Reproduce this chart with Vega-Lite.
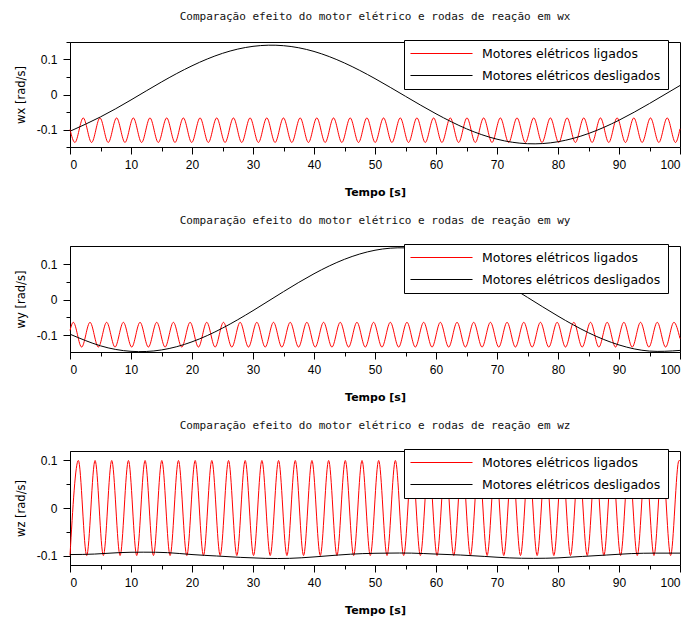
{
"$schema": "https://vega.github.io/schema/vega-lite/v6.json",
"padding": {"left": 14, "top": 10, "right": 0, "bottom": 0},
"spacing": 16,
"datasets": {
"wxL": [{"t":0,"v":-0.1},{"t":0.8,"v":-0.137},{"t":2.17,"v":-0.067},{"t":3.54,"v":-0.137},{"t":4.91,"v":-0.067},{"t":6.27,"v":-0.137},{"t":7.64,"v":-0.067},{"t":9.01,"v":-0.137},{"t":10.38,"v":-0.067},{"t":11.74,"v":-0.137},{"t":13.11,"v":-0.067},{"t":14.48,"v":-0.137},{"t":15.85,"v":-0.067},{"t":17.21,"v":-0.137},{"t":18.58,"v":-0.067},{"t":19.95,"v":-0.137},{"t":21.32,"v":-0.067},{"t":22.68,"v":-0.137},{"t":24.05,"v":-0.067},{"t":25.42,"v":-0.137},{"t":26.79,"v":-0.067},{"t":28.15,"v":-0.137},{"t":29.52,"v":-0.067},{"t":30.89,"v":-0.137},{"t":32.26,"v":-0.067},{"t":33.62,"v":-0.137},{"t":34.99,"v":-0.067},{"t":36.36,"v":-0.137},{"t":37.73,"v":-0.067},{"t":39.09,"v":-0.137},{"t":40.46,"v":-0.067},{"t":41.83,"v":-0.137},{"t":43.2,"v":-0.067},{"t":44.56,"v":-0.137},{"t":45.93,"v":-0.067},{"t":47.3,"v":-0.137},{"t":48.67,"v":-0.067},{"t":50.03,"v":-0.137},{"t":51.4,"v":-0.067},{"t":52.77,"v":-0.137},{"t":54.14,"v":-0.067},{"t":55.5,"v":-0.137},{"t":56.87,"v":-0.067},{"t":58.24,"v":-0.137},{"t":59.61,"v":-0.067},{"t":60.97,"v":-0.137},{"t":62.34,"v":-0.067},{"t":63.71,"v":-0.137},{"t":65.08,"v":-0.067},{"t":66.44,"v":-0.137},{"t":67.81,"v":-0.067},{"t":69.18,"v":-0.137},{"t":70.55,"v":-0.067},{"t":71.91,"v":-0.137},{"t":73.28,"v":-0.067},{"t":74.65,"v":-0.137},{"t":76.02,"v":-0.067},{"t":77.38,"v":-0.137},{"t":78.75,"v":-0.067},{"t":80.12,"v":-0.137},{"t":81.49,"v":-0.067},{"t":82.85,"v":-0.137},{"t":84.22,"v":-0.067},{"t":85.59,"v":-0.137},{"t":86.96,"v":-0.067},{"t":88.32,"v":-0.137},{"t":89.69,"v":-0.067},{"t":91.06,"v":-0.137},{"t":92.43,"v":-0.067},{"t":93.79,"v":-0.137},{"t":95.16,"v":-0.067},{"t":96.53,"v":-0.137},{"t":97.9,"v":-0.067},{"t":99.26,"v":-0.137},{"t":100,"v":-0.098}],
"wxD": [{"t":0,"v":-0.105},{"t":5,"v":-0.064},{"t":10,"v":-0.0155},{"t":15,"v":0.0358},{"t":20,"v":0.082},{"t":25,"v":0.1176},{"t":30,"v":0.1376},{"t":35,"v":0.1395},{"t":40,"v":0.123},{"t":45,"v":0.09},{"t":50,"v":0.0454},{"t":55,"v":-0.0052},{"t":60,"v":-0.0551},{"t":65,"v":-0.098},{"t":70,"v":-0.1277},{"t":75,"v":-0.1406},{"t":80,"v":-0.135},{"t":85,"v":-0.1115},{"t":90,"v":-0.0735},{"t":95,"v":-0.0257},{"t":100,"v":0.0257}],
"wyL": [{"t":0,"v":-0.087},{"t":0.54,"v":-0.064},{"t":1.91,"v":-0.134},{"t":3.28,"v":-0.064},{"t":4.65,"v":-0.134},{"t":6.01,"v":-0.064},{"t":7.38,"v":-0.134},{"t":8.75,"v":-0.064},{"t":10.12,"v":-0.134},{"t":11.48,"v":-0.064},{"t":12.85,"v":-0.134},{"t":14.22,"v":-0.064},{"t":15.59,"v":-0.134},{"t":16.95,"v":-0.064},{"t":18.32,"v":-0.134},{"t":19.69,"v":-0.064},{"t":21.06,"v":-0.134},{"t":22.42,"v":-0.064},{"t":23.79,"v":-0.134},{"t":25.16,"v":-0.064},{"t":26.53,"v":-0.134},{"t":27.89,"v":-0.064},{"t":29.26,"v":-0.134},{"t":30.63,"v":-0.064},{"t":32.0,"v":-0.134},{"t":33.36,"v":-0.064},{"t":34.73,"v":-0.134},{"t":36.1,"v":-0.064},{"t":37.47,"v":-0.134},{"t":38.83,"v":-0.064},{"t":40.2,"v":-0.134},{"t":41.57,"v":-0.064},{"t":42.94,"v":-0.134},{"t":44.3,"v":-0.064},{"t":45.67,"v":-0.134},{"t":47.04,"v":-0.064},{"t":48.41,"v":-0.134},{"t":49.77,"v":-0.064},{"t":51.14,"v":-0.134},{"t":52.51,"v":-0.064},{"t":53.88,"v":-0.134},{"t":55.24,"v":-0.064},{"t":56.61,"v":-0.134},{"t":57.98,"v":-0.064},{"t":59.35,"v":-0.134},{"t":60.71,"v":-0.064},{"t":62.08,"v":-0.134},{"t":63.45,"v":-0.064},{"t":64.82,"v":-0.134},{"t":66.18,"v":-0.064},{"t":67.55,"v":-0.134},{"t":68.92,"v":-0.064},{"t":70.29,"v":-0.134},{"t":71.65,"v":-0.064},{"t":73.02,"v":-0.134},{"t":74.39,"v":-0.064},{"t":75.76,"v":-0.134},{"t":77.12,"v":-0.064},{"t":78.49,"v":-0.134},{"t":79.86,"v":-0.064},{"t":81.23,"v":-0.134},{"t":82.59,"v":-0.064},{"t":83.96,"v":-0.134},{"t":85.33,"v":-0.064},{"t":86.7,"v":-0.134},{"t":88.06,"v":-0.064},{"t":89.43,"v":-0.134},{"t":90.8,"v":-0.064},{"t":92.17,"v":-0.134},{"t":93.53,"v":-0.064},{"t":94.9,"v":-0.134},{"t":96.27,"v":-0.064},{"t":97.64,"v":-0.134},{"t":99.0,"v":-0.064},{"t":100,"v":-0.11}],
"wyD": [{"t":0,"v":-0.0976},{"t":5,"v":-0.1305},{"t":10,"v":-0.1461},{"t":15,"v":-0.1422},{"t":20,"v":-0.1192},{"t":25,"v":-0.0804},{"t":30,"v":-0.0309},{"t":35,"v":0.0228},{"t":40,"v":0.0735},{"t":45,"v":0.1144},{"t":50,"v":0.14},{"t":55,"v":0.1467},{"t":60,"v":0.134},{"t":65,"v":0.1035},{"t":70,"v":0.0591},{"t":75,"v":0.0066},{"t":80,"v":-0.0464},{"t":85,"v":-0.0935},{"t":90,"v":-0.128},{"t":95,"v":-0.1454},{"t":100,"v":-0.1435}],
"wzL": [{"t":0,"v":-0.1},{"t":1.37,"v":0.1},{"t":2.74,"v":-0.1},{"t":4.11,"v":0.1},{"t":5.47,"v":-0.1},{"t":6.84,"v":0.1},{"t":8.21,"v":-0.1},{"t":9.58,"v":0.1},{"t":10.94,"v":-0.1},{"t":12.31,"v":0.1},{"t":13.68,"v":-0.1},{"t":15.05,"v":0.1},{"t":16.41,"v":-0.1},{"t":17.78,"v":0.1},{"t":19.15,"v":-0.1},{"t":20.52,"v":0.1},{"t":21.88,"v":-0.1},{"t":23.25,"v":0.1},{"t":24.62,"v":-0.1},{"t":25.99,"v":0.1},{"t":27.35,"v":-0.1},{"t":28.72,"v":0.1},{"t":30.09,"v":-0.1},{"t":31.46,"v":0.1},{"t":32.82,"v":-0.1},{"t":34.19,"v":0.1},{"t":35.56,"v":-0.1},{"t":36.93,"v":0.1},{"t":38.29,"v":-0.1},{"t":39.66,"v":0.1},{"t":41.03,"v":-0.1},{"t":42.4,"v":0.1},{"t":43.76,"v":-0.1},{"t":45.13,"v":0.1},{"t":46.5,"v":-0.1},{"t":47.87,"v":0.1},{"t":49.23,"v":-0.1},{"t":50.6,"v":0.1},{"t":51.97,"v":-0.1},{"t":53.34,"v":0.1},{"t":54.7,"v":-0.1},{"t":56.07,"v":0.1},{"t":57.44,"v":-0.1},{"t":58.81,"v":0.1},{"t":60.17,"v":-0.1},{"t":61.54,"v":0.1},{"t":62.91,"v":-0.1},{"t":64.28,"v":0.1},{"t":65.64,"v":-0.1},{"t":67.01,"v":0.1},{"t":68.38,"v":-0.1},{"t":69.75,"v":0.1},{"t":71.11,"v":-0.1},{"t":72.48,"v":0.1},{"t":73.85,"v":-0.1},{"t":75.22,"v":0.1},{"t":76.58,"v":-0.1},{"t":77.95,"v":0.1},{"t":79.32,"v":-0.1},{"t":80.69,"v":0.1},{"t":82.05,"v":-0.1},{"t":83.42,"v":0.1},{"t":84.79,"v":-0.1},{"t":86.16,"v":0.1},{"t":87.52,"v":-0.1},{"t":88.89,"v":0.1},{"t":90.26,"v":-0.1},{"t":91.63,"v":0.1},{"t":92.99,"v":-0.1},{"t":94.36,"v":0.1},{"t":95.73,"v":-0.1},{"t":97.1,"v":0.1},{"t":98.46,"v":-0.1},{"t":99.83,"v":0.1},{"t":100,"v":0.099}],
"wzD": [{"t":0,"v":-0.098},{"t":4,"v":-0.097},{"t":8,"v":-0.094},{"t":12,"v":-0.093},{"t":16,"v":-0.094},{"t":20,"v":-0.098},{"t":24,"v":-0.101},{"t":28,"v":-0.104},{"t":32,"v":-0.106},{"t":36,"v":-0.106},{"t":40,"v":-0.103},{"t":44,"v":-0.099},{"t":48,"v":-0.096},{"t":52,"v":-0.095},{"t":56,"v":-0.095},{"t":60,"v":-0.097},{"t":64,"v":-0.099},{"t":68,"v":-0.102},{"t":72,"v":-0.105},{"t":76,"v":-0.106},{"t":80,"v":-0.105},{"t":84,"v":-0.102},{"t":88,"v":-0.099},{"t":92,"v":-0.096},{"t":96,"v":-0.095},{"t":100,"v":-0.095}]
},
"config": {
"view": {"stroke": "black", "strokeWidth": 1},
"axis": {"grid": false, "domainColor": "black", "tickColor": "black", "labelColor": "black", "titleColor": "black", "labelFont": "Liberation Sans", "labelFontSize": 12, "tickSize": 7},
"title": {"font": "DejaVu Sans Mono", "fontSize": 11, "fontWeight": "normal", "color": "#111111", "offset": 18, "anchor": "middle"},
"line": {"strokeWidth": 1}
},
"resolve": {"scale": {"color": "independent"}, "legend": {"color": "independent"}},
"vconcat": [
{
"width": 610, "height": 105,
"title": "Comparação efeito do motor elétrico e rodas de reação em wx",
"layer": [
{"data": {"name": "wxL"}, "mark": {"type": "line", "interpolate": "monotone"},
"encoding": {
"x": {"field": "t", "type": "quantitative", "scale": {"domain": [0, 100], "nice": false}, "axis": {"values": [0,10,20,30,40,50,60,70,80,90,100], "title": "Tempo [s]", "titleFont": "DejaVu Sans", "titleFontSize": 11, "titleFontWeight": "bold", "labelPadding": 5, "titlePadding": 16}},
"y": {"field": "v", "type": "quantitative", "scale": {"domain": [-0.15, 0.15], "nice": false, "zero": false}, "axis": {"values": [-0.1, 0, 0.1], "labelExpr": "datum.value > 0 ? '0.1' : datum.value < 0 ? '-0.1' : '0'", "title": "wx [rad/s]", "titleFont": "DejaVu Sans", "titleFontSize": 11.5, "titleFontWeight": "normal", "labelPadding": 6, "titlePadding": 10}},
"color": {"datum": "Motores elétricos ligados", "type": "nominal", "scale": {"domain": ["Motores elétricos ligados", "Motores elétricos desligados"], "range": ["#ff0000", "#000000"]},
"legend": {"title": null, "orient": "none", "legendX": 334, "legendY": -2, "fillColor": "white", "strokeColor": "black", "padding": 7, "symbolType": "M-5.17,0H5.17", "symbolSize": 144, "symbolStrokeWidth": 1, "symbolOffset": 24, "labelOffset": 34, "labelFont": "DejaVu Sans", "labelFontSize": 12.5, "labelColor": "black", "rowPadding": 9, "labelLimit": 0}}
}},
{"data": {"name": "wxD"}, "mark": {"type": "line", "interpolate": "natural"},
"encoding": {
"x": {"field": "t", "type": "quantitative", "axis": null},
"y": {"field": "v", "type": "quantitative", "axis": null},
"color": {"datum": "Motores elétricos desligados", "type": "nominal"}
}},
{"data": {"name": "wxD"}, "mark": {"type": "point", "opacity": 0},
"encoding": {
"x": {"field": "t", "type": "quantitative", "axis": {"orient": "bottom", "values": [5,15,25,35,45,55,65,75,85,95], "labels": false, "domain": false, "tickSize": 4, "title": null}},
"y": {"field": "v", "type": "quantitative", "axis": {"orient": "left", "values": [-0.15,-0.05,0.05,0.15], "labels": false, "domain": false, "tickSize": 4, "title": null}}
}}
],
"resolve": {"axis": {"x": "independent", "y": "independent"}}
},
{
"width": 610, "height": 106,
"title": "Comparação efeito do motor elétrico e rodas de reação em wy",
"layer": [
{"data": {"name": "wyL"}, "mark": {"type": "line", "interpolate": "monotone"},
"encoding": {
"x": {"field": "t", "type": "quantitative", "scale": {"domain": [0, 100], "nice": false}, "axis": {"values": [0,10,20,30,40,50,60,70,80,90,100], "title": "Tempo [s]", "titleFont": "DejaVu Sans", "titleFontSize": 11, "titleFontWeight": "bold", "labelPadding": 5, "titlePadding": 16}},
"y": {"field": "v", "type": "quantitative", "scale": {"domain": [-0.148, 0.152], "nice": false, "zero": false}, "axis": {"values": [-0.1, 0, 0.1], "labelExpr": "datum.value > 0 ? '0.1' : datum.value < 0 ? '-0.1' : '0'", "title": "wy [rad/s]", "titleFont": "DejaVu Sans", "titleFontSize": 11.5, "titleFontWeight": "normal", "labelPadding": 6, "titlePadding": 10}},
"color": {"datum": "Motores elétricos ligados", "type": "nominal", "scale": {"domain": ["Motores elétricos ligados", "Motores elétricos desligados"], "range": ["#ff0000", "#000000"]},
"legend": {"title": null, "orient": "none", "legendX": 334, "legendY": -2, "fillColor": "white", "strokeColor": "black", "padding": 7, "symbolType": "M-5.17,0H5.17", "symbolSize": 144, "symbolStrokeWidth": 1, "symbolOffset": 24, "labelOffset": 34, "labelFont": "DejaVu Sans", "labelFontSize": 12.5, "labelColor": "black", "rowPadding": 9, "labelLimit": 0}}
}},
{"data": {"name": "wyD"}, "mark": {"type": "line", "interpolate": "natural"},
"encoding": {
"x": {"field": "t", "type": "quantitative", "axis": null},
"y": {"field": "v", "type": "quantitative", "axis": null},
"color": {"datum": "Motores elétricos desligados", "type": "nominal"}
}},
{"data": {"name": "wyD"}, "mark": {"type": "point", "opacity": 0},
"encoding": {
"x": {"field": "t", "type": "quantitative", "axis": {"orient": "bottom", "values": [5,15,25,35,45,55,65,75,85,95], "labels": false, "domain": false, "tickSize": 4, "title": null}},
"y": {"field": "v", "type": "quantitative", "axis": {"orient": "left", "values": [-0.05,0.05], "labels": false, "domain": false, "tickSize": 4, "title": null}}
}}
],
"resolve": {"axis": {"x": "independent", "y": "independent"}}
},
{
"width": 610, "height": 114,
"title": "Comparação efeito do motor elétrico e rodas de reação em wz",
"layer": [
{"data": {"name": "wzL"}, "mark": {"type": "line", "interpolate": "monotone"},
"encoding": {
"x": {"field": "t", "type": "quantitative", "scale": {"domain": [0, 100], "nice": false}, "axis": {"values": [0,10,20,30,40,50,60,70,80,90,100], "title": "Tempo [s]", "titleFont": "DejaVu Sans", "titleFontSize": 11, "titleFontWeight": "bold", "labelPadding": 5, "titlePadding": 16}},
"y": {"field": "v", "type": "quantitative", "scale": {"domain": [-0.12, 0.12], "nice": false, "zero": false}, "axis": {"values": [-0.1, 0, 0.1], "labelExpr": "datum.value > 0 ? '0.1' : datum.value < 0 ? '-0.1' : '0'", "title": "wz [rad/s]", "titleFont": "DejaVu Sans", "titleFontSize": 11.5, "titleFontWeight": "normal", "labelPadding": 6, "titlePadding": 10}},
"color": {"datum": "Motores elétricos ligados", "type": "nominal", "scale": {"domain": ["Motores elétricos ligados", "Motores elétricos desligados"], "range": ["#ff0000", "#000000"]},
"legend": {"title": null, "orient": "none", "legendX": 334, "legendY": -2, "fillColor": "white", "strokeColor": "black", "padding": 7, "symbolType": "M-5.17,0H5.17", "symbolSize": 144, "symbolStrokeWidth": 1, "symbolOffset": 24, "labelOffset": 34, "labelFont": "DejaVu Sans", "labelFontSize": 12.5, "labelColor": "black", "rowPadding": 9, "labelLimit": 0}}
}},
{"data": {"name": "wzD"}, "mark": {"type": "line", "interpolate": "natural"},
"encoding": {
"x": {"field": "t", "type": "quantitative", "axis": null},
"y": {"field": "v", "type": "quantitative", "axis": null},
"color": {"datum": "Motores elétricos desligados", "type": "nominal"}
}},
{"data": {"name": "wzD"}, "mark": {"type": "point", "opacity": 0},
"encoding": {
"x": {"field": "t", "type": "quantitative", "axis": {"orient": "bottom", "values": [5,15,25,35,45,55,65,75,85,95], "labels": false, "domain": false, "tickSize": 4, "title": null}},
"y": {"field": "v", "type": "quantitative", "axis": {"orient": "left", "values": [-0.05,0.05], "labels": false, "domain": false, "tickSize": 4, "title": null}}
}}
],
"resolve": {"axis": {"x": "independent", "y": "independent"}}
}
]
}
